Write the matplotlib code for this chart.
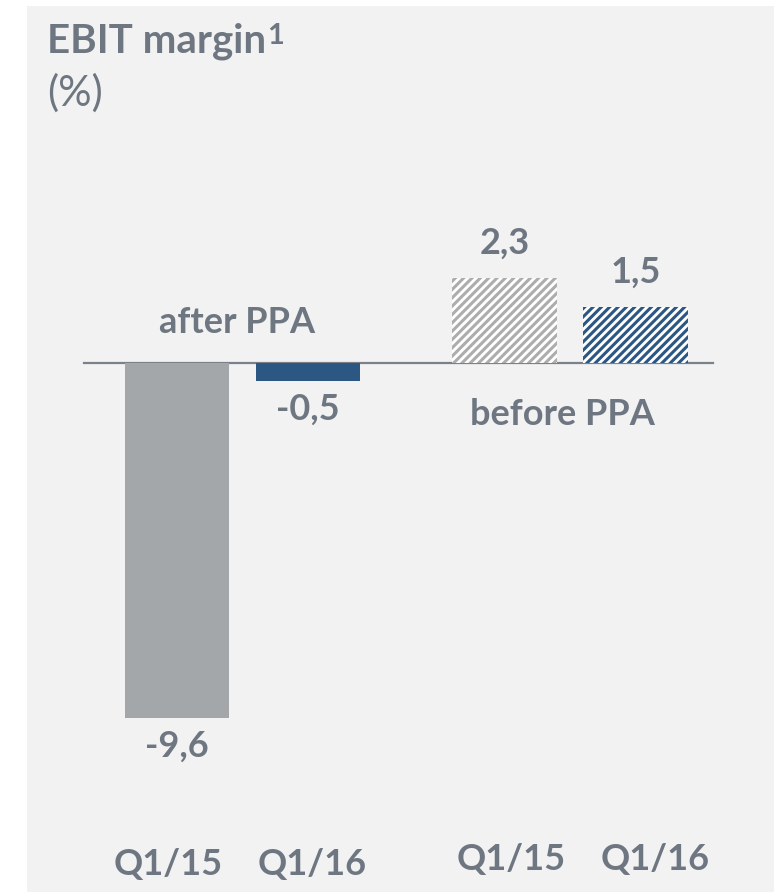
import matplotlib
matplotlib.use("Agg")
import matplotlib.pyplot as plt

# values (EBIT margin in %)
categories = ["Q1/15", "Q1/16", "Q1/15", "Q1/16"]
values = [-9.6, -0.5, 2.3, 1.5]
value_labels = ["-9,6", "-0,5", "2,3", "1,5"]
group_labels = ["after PPA", "before PPA"]

TEXT = "#6e7781"
LINE = "#7b8189"
GREY = "#a4a7aa"
BLUE = "#2c5783"
HATCH_GREY = "#adadad"
PANEL = "#f2f2f2"

plt.rcParams["font.family"] = ["Lato", "DejaVu Sans"]
plt.rcParams["hatch.linewidth"] = 2.2

fig = plt.figure(figsize=(7.77, 8.92), dpi=100, facecolor="white")
ax = fig.add_axes([27 / 777, 0, 747 / 777, 886 / 892])
ax.set_facecolor(PANEL)
for s in ax.spines.values():
    s.set_visible(False)
ax.set_xticks([])
ax.set_yticks([])

x = [0, 1, 2.5, 3.5]
faces = [GREY, BLUE, "white", "white"]
edges = [GREY, BLUE, HATCH_GREY, BLUE]
hatches = [None, None, "////", "////"]

for xi, v, fc, ec, h in zip(x, values, faces, edges, hatches):
    ax.bar(xi, v, width=0.8, color=fc, edgecolor=ec, hatch=h, linewidth=0, zorder=2)

# zero line
ax.plot([-0.71, 4.09], [0, 0], color=LINE, lw=1.6, zorder=1)

ax.set_xlim(-1.145, 4.557)
ax.set_ylim(-14.3, 9.65)

# value labels
for xi, v, lab in zip(x, values, value_labels):
    off = 17.5 if v > 0 else -27.5
    ax.annotate(lab, (xi, v), xytext=(0, off), textcoords="offset points",
                ha="center", va="baseline", fontsize=26, fontweight="bold", color=TEXT)

# group labels
ax.text(0.46, 0.81, group_labels[0], ha="center", va="baseline",
        fontsize=26, fontweight="bold", color=TEXT)
ax.text(2.94, -1.68, group_labels[1], ha="center", va="baseline",
        fontsize=26, fontweight="bold", color=TEXT)

# category labels under the panel
label_shift = [-0.07, 0.03, 0.05, 0.15]
label_y = [-13.84, -13.84, -13.70, -13.70]
for xi, sh, ly, cat in zip(x, label_shift, label_y, categories):
    ax.text(xi + sh, ly, cat, ha="center", va="baseline",
            fontsize=26, fontweight="bold", color=TEXT)

# title
title = fig.text(47 / 777, 1 - 53 / 892, "EBIT margin", ha="left", va="baseline",
                 fontsize=29, fontweight="bold", color=TEXT)
ax.annotate("1", xy=(1, 1), xycoords=title, xytext=(0.5, 0), textcoords="offset points",
            ha="left", va="top", fontsize=21, fontweight="bold", color=TEXT,
            annotation_clip=False)
fig.text(47 / 777, 1 - 106 / 892, "(%)", ha="left", va="baseline",
         fontsize=30, color=TEXT)

fig.savefig("out.png", dpi=100, facecolor="white")
